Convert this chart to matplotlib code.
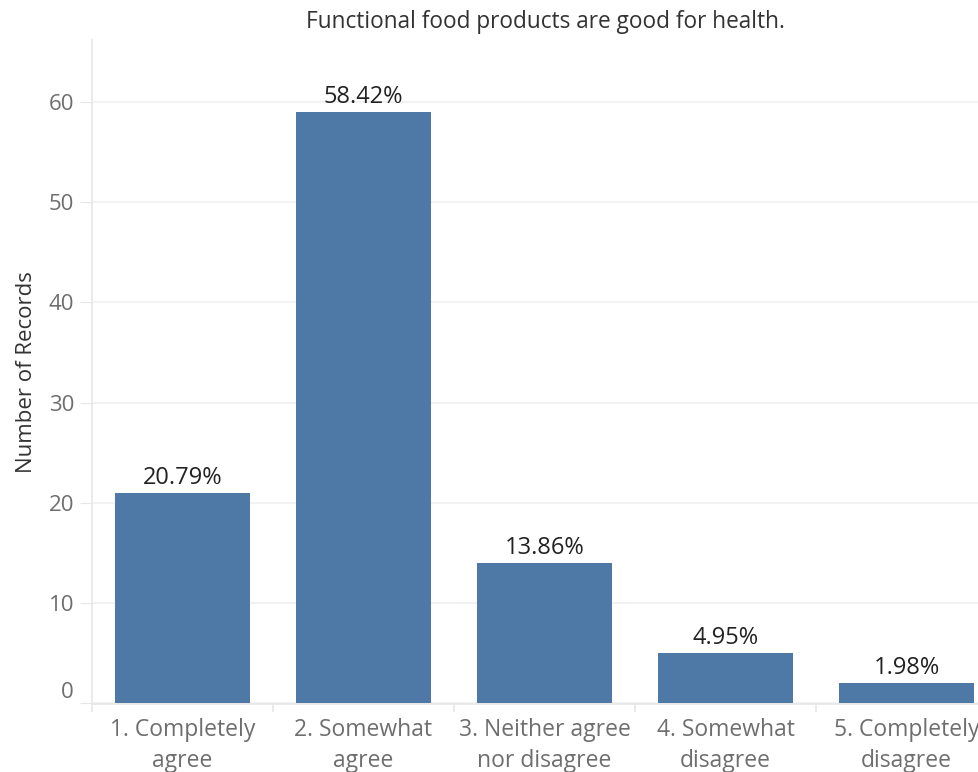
import matplotlib.pyplot as plt
import numpy as np

plt.rcParams['font.family'] = ['Open Sans', 'DejaVu Sans']

# datos
categorias = ['1. Completely\nagree', '2. Somewhat\nagree', '3. Neither agree\nnor disagree',
              '4. Somewhat\ndisagree', '5. Completely\ndisagree']
registros = [21, 59, 14, 5, 2]
yticks = [0, 10, 20, 30, 40, 50, 60]

color_barra = '#4e79a7'
gris_linea = '#e6e6e6'
gris_texto = '#6e6e6e'

fig = plt.figure(figsize=(9.79, 7.72), dpi=100)
ax = fig.add_axes([92 / 979, 68 / 772, 905 / 979, 664 / 772])

x = np.arange(len(categorias))
ax.bar(x, registros, width=0.75, color=color_barra, zorder=3)

total = sum(registros)
for xi, v in zip(x, registros):
    ax.annotate(f'{v / total * 100:.2f}%', (xi, v), xytext=(0, 2), textcoords='offset points',
                ha='center', va='bottom', fontsize=17, color='#222222')

ax.set_xlim(-0.5, len(categorias) - 0.5)
ax.set_ylim(-0.1, 66.2)

# rejilla horizontal
ax.set_yticks(yticks)
ax.set_yticklabels([str(t) for t in yticks])
ax.yaxis.grid(True, color='#f0f0f0', linewidth=1.2, zorder=0)
ax.tick_params(axis='y', length=9, color=gris_linea, labelsize=16, labelcolor=gris_texto, pad=4)
ax.get_yticklabels()[0].set_va('bottom')

# etiquetas x y separadores entre categorias
ax.set_xticks(x)
ax.set_xticklabels(categorias, fontsize=16.5, color=gris_texto, linespacing=1.4)
ax.tick_params(axis='x', which='major', length=0, pad=10)
ax.set_xticks(np.arange(-0.5, len(categorias)), minor=True)
ax.tick_params(axis='x', which='minor', length=6, color=gris_linea, width=1.2)

for lado in ['top', 'right']:
    ax.spines[lado].set_visible(False)
for lado in ['left', 'bottom']:
    ax.spines[lado].set_color(gris_linea)
    ax.spines[lado].set_linewidth(1.2)

ax.set_ylabel('Number of Records', fontsize=16, color='#333333', labelpad=8)
fig.text(545 / 979, 1 - 22 / 772, 'Functional food products are good for health.',
         ha='center', va='center', fontsize=16.3, color='#333333')

plt.savefig('out.png', dpi=100)
